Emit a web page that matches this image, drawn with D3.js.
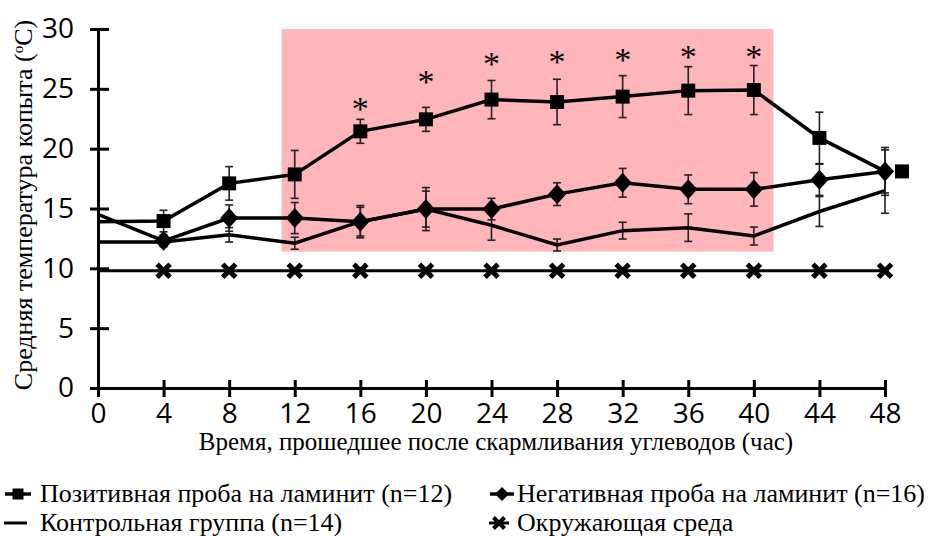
<!DOCTYPE html>
<html>
<head>
<meta charset="utf-8">
<script src="https://cdn.jsdelivr.net/npm/d3@7"></script>
<style>
  body { margin: 0; background: #fff; }
  svg { display: block; }
  svg text.ticklab { font-family: 'Open Sans', 'Noto Sans', sans-serif; font-size: 28px; }
  svg text.ser { font-family: 'Liberation Serif', 'Times New Roman', serif; }
</style>
</head>
<body>
<svg id="chart" width="931" height="536"></svg>
<script>
// time after carbohydrate feeding, hours
const hours = [0, 4, 8, 12, 16, 20, 24, 28, 32, 36, 40, 44, 48];

// mean hoof temperature (deg C) and error bars
const positive    = [13.9, 13.95, 17.1, 17.85, 21.45, 22.45, 24.1, 23.9, 24.35, 24.85, 24.9, 20.9, 18.1];
const positiveErr = [null, 0.9, 1.4, 2.0, 1.0, 1.0, 1.6, 1.9, 1.75, 2.0, 2.05, 2.15, 2.0];
const negative    = [14.5, 12.3, 14.2, 14.2, 13.9, 14.95, 14.95, 16.2, 17.15, 16.6, 16.6, 17.4, 18.1];
const negativeErr = [null, 0.5, 1.1, 1.3, 1.35, 1.8, 0.9, 0.95, 1.2, 1.2, 1.4, 1.3, 1.8];
const control     = [12.2, 12.2, 12.8, 12.1, 13.9, 14.95, 13.6, 11.95, 13.15, 13.4, 12.7, 14.75, 16.5];
const controlErr  = [null, 0.3, 0.6, 0.5, 1.2, 1.5, 1.25, 0.5, 0.7, 1.15, 0.75, 1.25, 1.9];
const environment = [9.8, 9.8, 9.8, 9.8, 9.8, 9.8, 9.8, 9.8, 9.8, 9.8, 9.8, 9.8, 9.8];

// significance stars
const starHours = [16, 20, 24, 28, 32, 36, 40];
const starLevel = [23.9, 26.1, 27.6, 27.8, 28.0, 28.2, 28.2];

// shaded period
const shadeHours = [11.2, 41.2];
const shadeTemp = [11.4, 30];

const yTicks = [0, 5, 10, 15, 20, 25, 30];

const yTitle = 'Средняя температура копыта (';
const xTitle = 'Время, прошедшее после скармливания углеводов (час)';
const legendLabels = [
  'Позитивная проба на ламинит (n=12)',
  'Негативная проба на ламинит (n=16)',
  'Контрольная группа (n=14)',
  'Окружающая среда'
];

let svg = d3.select('#chart');

let x = d3.scaleLinear().domain([0, 48]).range([98, 885]);
let y = d3.scaleLinear().domain([0, 30]).range([388, 29]);

// pink highlight
svg.append('rect')
  .attr('x', x(shadeHours[0]))
  .attr('y', y(shadeTemp[1]))
  .attr('width', x(shadeHours[1]) - x(shadeHours[0]))
  .attr('height', y(shadeTemp[0]) - y(shadeTemp[1]))
  .attr('fill', '#ffb6ba');

// axes
let yAxis = d3.axisLeft(y).tickValues(yTicks).tickSizeOuter(0).tickSize(8).tickPadding(16);
let yG = svg.append('g')
  .attr('transform', `translate(${x(0)},0)`)
  .call(yAxis);
yG.select('.domain').attr('stroke-width', 3);
yG.selectAll('.tick line').attr('x1', -8).attr('x2', 11).attr('stroke-width', 3);
yG.selectAll('.tick text').attr('class', 'ticklab').attr('fill', '#000');

let xAxis = d3.axisBottom(x).tickValues(hours).tickSizeOuter(0).tickSize(9);
let xG = svg.append('g')
  .attr('transform', `translate(0,${y(0)})`)
  .call(xAxis);
xG.select('.domain').attr('stroke-width', 3);
xG.selectAll('.tick line').attr('y1', -8).attr('y2', 9).attr('stroke-width', 3);
xG.selectAll('.tick text').attr('y', 15).attr('class', 'ticklab').attr('fill', '#000');

// axis titles
let yt = svg.append('text')
  .attr('class', 'ser').attr('font-size', 26)
  .attr('transform', `translate(32,205) rotate(-90)`)
  .attr('text-anchor', 'middle')
  .text(yTitle);
yt.append('tspan').attr('dy', -9).attr('font-size', 15).text('o');
yt.append('tspan').attr('dy', 9).text('C)');

svg.append('text')
  .attr('class', 'ser').attr('font-size', 25)
  .attr('x', 496).attr('y', 450)
  .attr('text-anchor', 'middle')
  .text(xTitle);

// marker shapes
function squarePath(s) { return d3.symbol(d3.symbolSquare, s * s)(); }
function diamondPath(w, h) { return `M0,${-h}L${w},0L0,${h}L${-w},0Z`; }
function crossPath(r) { return `M${-r},${-r}L${r},${r}M${-r},${r}L${r},${-r}`; }

let line = d3.line().x(d => x(d.h)).y(d => y(d.v));
function rows(vals, errs) {
  return hours.map((h, i) => ({ h: h, v: vals[i], e: errs ? errs[i] : null }));
}

function errorBars(data) {
  let g = svg.append('g').attr('stroke', '#222').attr('stroke-width', 1.6);
  data.filter(d => d.e).forEach(d => {
    g.append('line').attr('x1', x(d.h)).attr('x2', x(d.h)).attr('y1', y(d.v - d.e)).attr('y2', y(d.v + d.e));
    g.append('line').attr('x1', x(d.h) - 4).attr('x2', x(d.h) + 4).attr('y1', y(d.v - d.e)).attr('y2', y(d.v - d.e));
    g.append('line').attr('x1', x(d.h) - 4).attr('x2', x(d.h) + 4).attr('y1', y(d.v + d.e)).attr('y2', y(d.v + d.e));
  });
}

// environment
let envData = rows(environment);
svg.append('path').datum(envData).attr('d', line)
  .attr('fill', 'none').attr('stroke', '#000').attr('stroke-width', 3);
svg.append('g').selectAll('path').data(envData.filter(d => d.h > 0)).enter()
  .append('path')
  .attr('transform', d => `translate(${x(d.h)},${y(d.v)})`)
  .attr('d', crossPath(6.5))
  .attr('stroke', '#000').attr('stroke-width', 5).attr('fill', 'none');

// control
let ctlData = rows(control, controlErr);
errorBars(ctlData);
svg.append('path').datum(ctlData).attr('d', line)
  .attr('fill', 'none').attr('stroke', '#000').attr('stroke-width', 3.5);

// negative
let negData = rows(negative, negativeErr);
errorBars(negData);
svg.append('path').datum(negData).attr('d', line)
  .attr('fill', 'none').attr('stroke', '#000').attr('stroke-width', 3.5);

// positive
let posData = rows(positive, positiveErr);
errorBars(posData);
svg.append('path').datum(posData).attr('d', line)
  .attr('fill', 'none').attr('stroke', '#000').attr('stroke-width', 3.5);

svg.append('g').selectAll('path').data(negData.filter(d => d.h > 0)).enter()
  .append('path')
  .attr('transform', d => `translate(${x(d.h)},${y(d.v)})`)
  .attr('d', diamondPath(9, 10));

// last square sits just right of the 48 h diamond
svg.append('g').selectAll('path').data(posData.filter(d => d.h > 0)).enter()
  .append('path')
  .attr('transform', d => `translate(${x(d.h) + (d.h === 48 ? 17 : 0)},${y(d.v)})`)
  .attr('d', squarePath(14));

// stars
svg.append('g').selectAll('text').data(starHours).enter()
  .append('text')
  .attr('class', 'ser').attr('font-size', 34)
  .attr('x', d => x(d))
  .attr('y', (d, i) => y(starLevel[i]))
  .attr('dy', '0.52em')
  .attr('text-anchor', 'middle')
  .text('*');

// legend
let legend = svg.append('g');
let legendItems = [
  { lx: 18, ly: 494, kind: 'square', tx: 40 },
  { lx: 502, ly: 494, kind: 'diamond', tx: 517 },
  { lx: 16, ly: 523, kind: 'line', tx: 40 },
  { lx: 499, ly: 523, kind: 'cross', tx: 517 }
];
legendItems.forEach((it, i) => {
  let g = legend.append('g').attr('transform', `translate(${it.lx},${it.ly})`);
  if (it.kind === 'square') {
    g.append('line').attr('x1', -13).attr('x2', 13).attr('stroke', '#000').attr('stroke-width', 3.5);
    g.append('path').attr('d', squarePath(11));
  } else if (it.kind === 'diamond') {
    g.append('line').attr('x1', -12).attr('x2', 12).attr('stroke', '#000').attr('stroke-width', 3.5);
    g.append('path').attr('d', diamondPath(7, 7));
  } else if (it.kind === 'line') {
    g.append('line').attr('x1', -12).attr('x2', 11).attr('stroke', '#000').attr('stroke-width', 3);
  } else {
    g.append('line').attr('x1', -10).attr('x2', 10).attr('stroke', '#000').attr('stroke-width', 3);
    g.append('path').attr('d', crossPath(5.5)).attr('stroke', '#000').attr('stroke-width', 4);
  }
  legend.append('text')
    .attr('class', 'ser').attr('font-size', 26)
    .attr('x', it.tx).attr('y', it.ly + 8)
    .text(legendLabels[i]);
});
</script>
</body>
</html>
